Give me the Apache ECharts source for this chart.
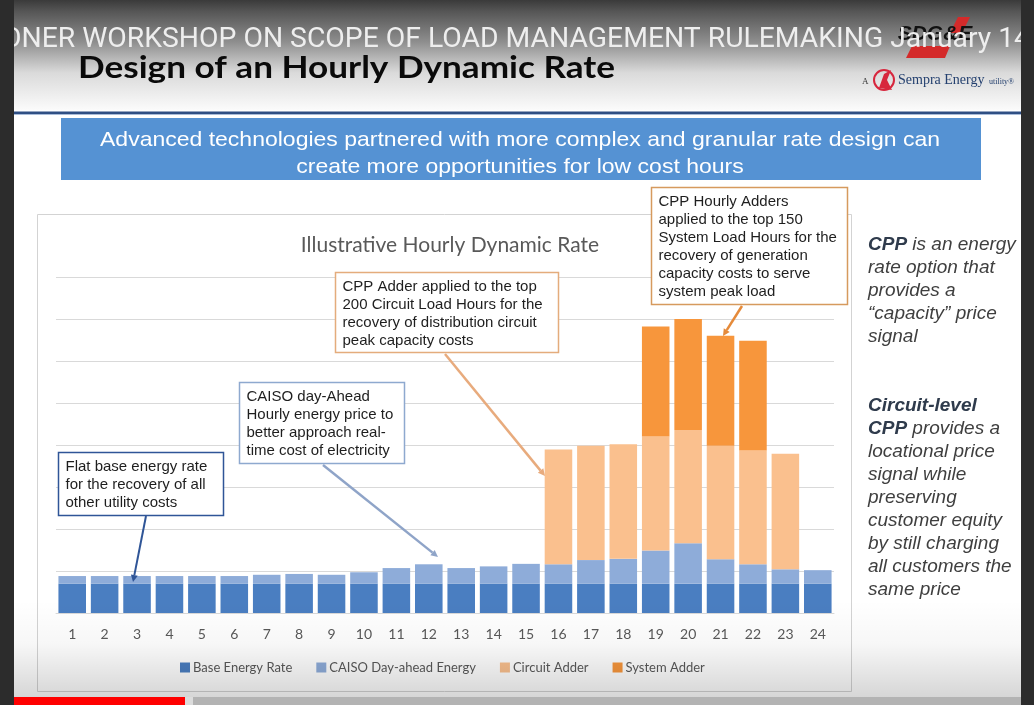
<!DOCTYPE html>
<html>
<head>
<meta charset="utf-8">
<script src="https://cdn.jsdelivr.net/npm/echarts@6/dist/echarts.min.js"></script>
<style>
  html, body { margin: 0; padding: 0; background: #2b2b2b; }
  #chart { width: 1034px; height: 705px; }
</style>
</head>
<body>
<div id="chart"></div>
<script>
// hours of the day
const hours = ['1','2','3','4','5','6','7','8','9','10','11','12','13','14','15','16','17','18','19','20','21','22','23','24']
// stacked components, in gridline units (illustrative, no axis values shown)
const baseRate = [0.7,0.7,0.7,0.7,0.7,0.7,0.7,0.7,0.7,0.7,0.7,0.7,0.7,0.7,0.7,0.7,0.7,0.7,0.7,0.7,0.7,0.7,0.7,0.7]
const caisoEnergy = [0.18,0.18,0.18,0.18,0.18,0.18,0.21,0.23,0.21,0.27,0.37,0.46,0.37,0.41,0.47,0.46,0.56,0.59,0.79,0.96,0.58,0.46,0.34,0.32]
const circuitAdder = [0,0,0,0,0,0,0,0,0,0,0,0,0,0,0,2.73,2.72,2.73,2.71,2.70,2.70,2.71,2.75,0]
const systemAdder = [0,0,0,0,0,0,0,0,0,0,0,0,0,0,0,0,0,0,2.62,2.64,2.62,2.61,0,0]
const seriesNames = ['Base Energy Rate','CAISO Day-ahead Energy','Circuit Adder','System Adder']

const chart = echarts.init(document.getElementById('chart'))

// stretch a single line of text to a given width
function fitScale (text, font, width) {
  const ctx = document.createElement('canvas').getContext('2d')
  ctx.font = font
  return width / ctx.measureText(text).width
}

function arrow (p, q, color, w) {
  const dx = q[0] - p[0], dy = q[1] - p[1]
  const len = Math.hypot(dx, dy), ux = dx / len, uy = dy / len
  const hl = 7, hw = 3.5
  const bx = q[0] - ux * hl, by = q[1] - uy * hl
  return [
    { type: 'line', z: 50, silent: true, shape: { x1: p[0], y1: p[1], x2: bx, y2: by }, style: { stroke: color, lineWidth: w } },
    { type: 'polygon', z: 50, silent: true, shape: { points: [q, [bx - uy * hw, by + ux * hw], [bx + uy * hw, by - ux * hw]] }, style: { fill: color } }
  ]
}

function note (x, y, w, h, stroke, lines) {
  return [
    { type: 'rect', z: 40, shape: { x: x, y: y, width: w, height: h }, style: { fill: '#fff', stroke: stroke, lineWidth: 1.5 } },
    { type: 'text', z: 41, x: x + 7, y: y + 5, style: { text: lines.join('\n'), fontFamily: 'Liberation Sans', fontSize: 15, fill: '#1e1e1e', lineHeight: 18 } }
  ]
}

const capText = 'ONER WORKSHOP ON SCOPE OF LOAD MANAGEMENT RULEMAKING January 14'
const capScale = fitScale(capText, '27px Roboto', 1028)
const headText = 'Design of an Hourly Dynamic Rate'
const headScale = fitScale(headText, 'bold 30px Lato', 537)
const bannerLine1 = 'Advanced technologies partnered with more complex and granular rate design can'
const bannerScale = fitScale(bannerLine1, '21px "Liberation Sans"', 840)

const graphics = [
  // slide background
  { type: 'rect', z: -10, silent: true, shape: { x: 0, y: 0, width: 1034, height: 705 }, style: { fill: '#ffffff' } },
  { type: 'rect', z: -9, silent: true, shape: { x: 0, y: 0, width: 1034, height: 110 },
    style: { fill: new echarts.graphic.LinearGradient(0, 0, 0, 1, [
      { offset: 0, color: '#3a3a3a' }, { offset: 0.1, color: '#555555' }, { offset: 0.38, color: '#8e8e8e' },
      { offset: 0.66, color: '#dadada' }, { offset: 1, color: '#fbfbfb' }]) } },
  { type: 'text', z: -8, silent: true, x: 78, y: 68, scaleX: headScale, originX: 0,
    style: { text: headText, fontFamily: 'Lato', fontWeight: 'bold', fontSize: 30, fill: '#0a0a0a', verticalAlign: 'middle' } },
  // SDG&E logo
  { type: 'polygon', z: -8, silent: true, shape: { points: [[958, 17], [970, 17], [962, 33], [950, 33]] }, style: { fill: '#d42a2a' } },
  { type: 'polygon', z: -8, silent: true, shape: { points: [[912, 46], [950, 46], [945, 58], [906, 58]] }, style: { fill: '#d42a2a' } },
  { type: 'text', z: -8, silent: true, x: 935, y: 34,
    style: { text: 'SDG&E', fontFamily: 'Liberation Sans', fontWeight: 'bold', fontStyle: 'italic', fontSize: 21, fill: '#111', align: 'center', verticalAlign: 'middle' } },
  { type: 'text', z: -8, silent: true, x: 862, y: 82, style: { text: 'A', fontFamily: 'Liberation Serif', fontSize: 9, fill: '#333', verticalAlign: 'middle' } },
  { type: 'circle', z: -8, silent: true, shape: { cx: 884, cy: 80, r: 10 }, style: { fill: 'none', stroke: '#d7263d', lineWidth: 2 } },
  { type: 'polygon', z: -8, silent: true, shape: { points: [[879, 88], [884, 74], [891, 70], [887, 80], [892, 90]] }, style: { fill: '#d7263d' } },
  { type: 'text', z: -8, silent: true, x: 898, y: 80, style: { text: 'Sempra Energy', fontFamily: 'Liberation Serif', fontSize: 14, fill: '#24406f', verticalAlign: 'middle' } },
  { type: 'text', z: -8, silent: true, x: 989, y: 82, style: { text: 'utility®', fontFamily: 'Liberation Serif', fontSize: 8, fill: '#24406f', verticalAlign: 'middle' } },
  // caption overlay
  { type: 'text', z: -7, silent: true, x: 2, y: 40, scaleX: capScale, originX: 0,
    style: { text: capText, fontFamily: 'Roboto', fontSize: 27, fill: '#eeeeee', verticalAlign: 'middle' } },
  // rule and banner
  { type: 'rect', z: -8, silent: true, shape: { x: 0, y: 111.5, width: 1034, height: 2.5 }, style: { fill: '#2f4f84' } },
  { type: 'rect', z: -8, silent: true, shape: { x: 0, y: 114, width: 1034, height: 1 }, style: { fill: '#a9bcd9' } },
  { type: 'rect', z: -8, silent: true, shape: { x: 61, y: 118, width: 920, height: 62 }, style: { fill: '#5592d3' } },
  { type: 'text', z: -7, silent: true, x: 520, y: 127, scaleX: bannerScale, originX: 0,
    style: { text: bannerLine1 + '\ncreate more opportunities for low cost hours',
      fontFamily: 'Liberation Sans', fontSize: 21, lineHeight: 26.5, fill: '#ffffff', align: 'center' } },
  // chart frame
  { type: 'rect', z: -6, silent: true, shape: { x: 37.5, y: 214.5, width: 814, height: 477 }, style: { fill: '#ffffff', stroke: '#d3d3d3', lineWidth: 1 } },
  // side notes
  { type: 'text', z: 30, x: 868, y: 233.5,
    style: { text: '{b|CPP} is an energy\nrate option that\nprovides a\n“capacity” price\nsignal',
      fontFamily: 'Liberation Sans', fontStyle: 'italic', fontSize: 19, lineHeight: 23, fill: '#3f3f3f',
      rich: { b: { fontFamily: 'Liberation Sans', fontStyle: 'italic', fontWeight: 'bold', fontSize: 19, lineHeight: 23, fill: '#2f3b4c' } } } },
  { type: 'text', z: 30, x: 868, y: 394.5,
    style: { text: '{b|Circuit-level}\n{b|CPP} provides a\nlocational price\nsignal while\npreserving\ncustomer equity\nby still charging\nall customers the\nsame price',
      fontFamily: 'Liberation Sans', fontStyle: 'italic', fontSize: 19, lineHeight: 23, fill: '#3f3f3f',
      rich: { b: { fontFamily: 'Liberation Sans', fontStyle: 'italic', fontWeight: 'bold', fontSize: 19, lineHeight: 23, fill: '#2f3b4c' } } } },
  // callouts
  ...note(58.5, 452.5, 165, 63, '#2f5597', ['Flat base energy rate', 'for the recovery of all', 'other utility costs']),
  ...arrow([146, 516], [133, 582], '#2f5597', 2),
  ...note(239.5, 382.5, 165, 81, '#8ea9cf', ['CAISO day-Ahead', 'Hourly energy price to', 'better approach real-', 'time cost of electricity']),
  ...arrow([323, 465], [438, 557], '#8fa4c8', 2.5),
  ...note(335.5, 272.5, 223, 80, '#e4ac7c', ['CPP Adder applied to the top', '200 Circuit Load Hours for the', 'recovery of distribution circuit', 'peak capacity costs']),
  ...arrow([445, 354], [545, 476], '#e8ab7d', 2.5),
  ...note(651.5, 187.5, 196, 117, '#d69a5e', ['CPP Hourly Adders', 'applied to the top 150', 'System Load Hours for the', 'recovery of generation', 'capacity costs to serve', 'system peak load']),
  ...arrow([742, 306], [723, 336], '#e58a3a', 2.5),
  // video frame
  { type: 'rect', z: 90, silent: true, shape: { x: 14, y: 600, width: 1007, height: 97 },
    style: { fill: new echarts.graphic.LinearGradient(0, 0, 0, 1, [
      { offset: 0, color: 'rgba(0,0,0,0)' }, { offset: 0.45, color: 'rgba(0,0,0,0.03)' }, { offset: 1, color: 'rgba(0,0,0,0.16)' }]) } },
  { type: 'rect', z: 91, silent: true, shape: { x: 0, y: 0, width: 14, height: 705 }, style: { fill: '#2c2c2c' } },
  { type: 'rect', z: 91, silent: true, shape: { x: 1021, y: 0, width: 13, height: 705 }, style: { fill: '#2c2c2c' } },
  { type: 'rect', z: 91, silent: true, shape: { x: 14, y: 697, width: 1007, height: 8 }, style: { fill: '#b3b3b3' } },
  { type: 'rect', z: 92, silent: true, shape: { x: 185, y: 697, width: 8, height: 8 }, style: { fill: '#dcdcdc' } },
  { type: 'rect', z: 92, silent: true, shape: { x: 14, y: 697, width: 171, height: 8 }, style: { fill: '#ff0000' } }
]

const colors = ['#4a7ec1', '#8eacd9', '#fac08e', '#f7963c']
const values = [baseRate, caisoEnergy, circuitAdder, systemAdder]

chart.setOption({
  animation: false,
  color: colors,
  title: {
    text: 'Illustrative Hourly Dynamic Rate',
    left: 445,
    top: 230,
    textAlign: 'center',
    textStyle: { fontFamily: 'Lato', fontWeight: 'normal', fontSize: 21, color: '#595959' }
  },
  legend: {
    left: 175,
    top: 656,
    icon: 'rect',
    itemWidth: 10,
    itemHeight: 10,
    itemGap: 24,
    textStyle: { fontFamily: 'Lato', fontSize: 13, color: '#595959', padding: [0, 0, 0, -2] },
    data: seriesNames
  },
  grid: { left: 56, right: 200, top: 277, bottom: 92 },
  xAxis: {
    type: 'category',
    data: hours,
    axisLine: { lineStyle: { color: '#d9d9d9' } },
    axisTick: { show: false },
    axisLabel: { color: '#595959', fontFamily: 'Lato', fontSize: 14, margin: 14 }
  },
  yAxis: {
    type: 'value',
    min: 0,
    max: 8,
    interval: 1,
    axisLabel: { show: false },
    axisLine: { show: false },
    axisTick: { show: false },
    splitLine: { lineStyle: { color: '#d9d9d9' } }
  },
  series: seriesNames.map((name, i) => ({
    name: name,
    type: 'bar',
    stack: 'rate',
    barCategoryGap: '15%',
    data: values[i]
  })),
  graphic: { elements: graphics }
})
</script>
</body>
</html>
